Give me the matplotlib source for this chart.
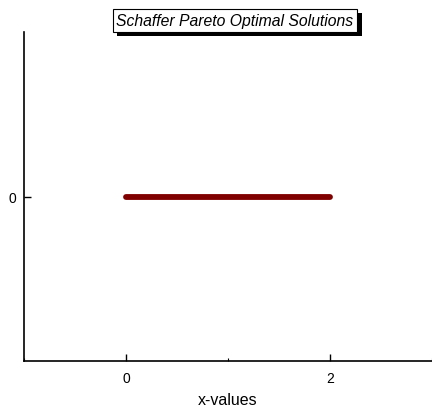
import numpy as np
import matplotlib.pyplot as plt
import matplotlib.patheffects as pe
from matplotlib.ticker import MultipleLocator

# Pareto optimal solutions of the Schaffer problem (x in [0, 2])
x_vals = [0.0, 0.1, 0.2, 0.3, 0.4, 0.5, 0.6, 0.7, 0.8, 0.9, 1.0,
          1.1, 1.2, 1.3, 1.4, 1.5, 1.6, 1.7, 1.8, 1.9, 2.0]
y_vals = [0.0] * len(x_vals)

plt.rcParams["font.family"] = ["Liberation Sans", "DejaVu Sans"]

fig = plt.figure(figsize=(4.32, 4.14), dpi=100)
ax = fig.add_axes([0.056, 0.125, 0.944, 0.795])

ax.plot(x_vals, y_vals, color="#800000", lw=4.2, solid_capstyle="round")

ax.set_xlim(-1, 3)
ax.set_ylim(-1, 1)
ax.set_xticks([0, 2])
ax.xaxis.set_minor_locator(MultipleLocator(1))
ax.set_yticks([0])
ax.tick_params(axis="both", which="major", direction="in", length=5, width=1,
               labelsize=10, pad=7)
ax.tick_params(axis="x", which="minor", direction="in", length=2.5, width=0.8)
ax.tick_params(axis="y", which="major", pad=6)

for s in ["top", "right"]:
    ax.spines[s].set_visible(False)
for s in ["left", "bottom"]:
    ax.spines[s].set_linewidth(1.2)

ax.set_xlabel("x-values", fontsize=11.5, labelpad=5)

t = fig.text(0.544, 0.949, "Schaffer Pareto Optimal Solutions", fontsize=11.3,
             style="italic", ha="center", va="center",
             bbox=dict(boxstyle="square,pad=0.25", fc="white", ec="black", lw=0.8))
t.get_bbox_patch().set_path_effects([
    pe.SimplePatchShadow(offset=(3, -3), shadow_rgbFace="black", alpha=1),
    pe.Normal()])

fig.savefig("out.png", dpi=100)
